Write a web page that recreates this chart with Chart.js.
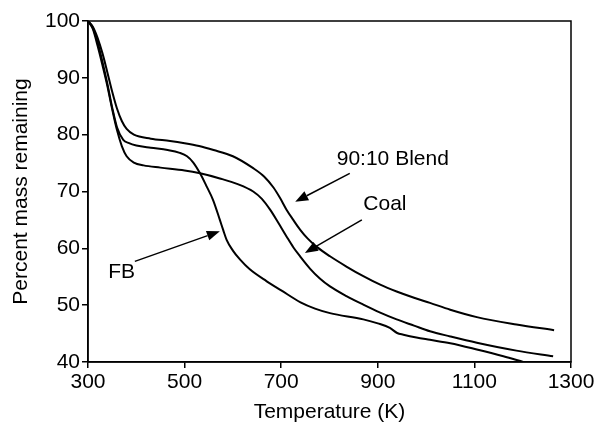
<!DOCTYPE html>
<html>
<head>
<meta charset="utf-8">
<script src="https://cdn.jsdelivr.net/npm/chart.js@4.4.1/dist/chart.umd.min.js"></script>
<style>
  html, body { margin: 0; padding: 0; background: #fff; }
</style>
</head>
<body>
<canvas id="myChart" width="609" height="426"></canvas>
<script>
// temperature (K) and percent mass remaining
const blendTemp = [300, 310, 320, 330, 340, 350, 360, 370, 380, 395, 430, 470, 500, 530, 560, 600, 642, 665, 684, 698, 711, 725, 739, 755, 773, 801, 835, 870, 905, 939, 975, 1008, 1050, 1105, 1187, 1265];
const blendMass = [100, 99.0, 97.0, 94.3, 91.0, 87.6, 84.6, 82.4, 81.0, 80.0, 79.3, 78.9, 78.5, 78.0, 77.3, 76.2, 74.1, 72.6, 70.7, 68.8, 66.8, 65.0, 63.3, 61.7, 60.3, 58.6, 56.8, 55.1, 53.6, 52.4, 51.3, 50.4, 49.2, 47.9, 46.6, 45.6];

const coalTemp = [300, 310, 320, 330, 340, 350, 360, 370, 380, 395, 415, 450, 500, 532, 573, 610, 642, 660, 677, 694, 711, 725, 739, 760, 780, 801, 835, 870, 905, 939, 975, 1008, 1050, 1105, 1187, 1263];
const coalMass = [100, 98.6, 95.6, 92.2, 88.6, 84.5, 80.8, 78.0, 76.2, 75.1, 74.6, 74.2, 73.7, 73.2, 72.3, 71.3, 70.0, 68.7, 66.8, 64.5, 62.1, 60.2, 58.6, 56.4, 54.7, 53.3, 51.6, 50.1, 48.7, 47.5, 46.4, 45.4, 44.5, 43.4, 42.0, 41.0];

const fbTemp = [300, 310, 320, 330, 340, 350, 360, 373, 385, 400, 430, 465, 490, 505, 518, 532, 545, 559, 573, 580, 587, 600, 615, 635, 670, 700, 740, 770, 801, 870, 900, 925, 940, 953, 980, 1008, 1050, 1105, 1160, 1201];
const fbMass = [100, 98.8, 96.2, 92.8, 89.0, 84.8, 81.3, 79.1, 78.5, 78.1, 77.7, 77.3, 76.8, 76.2, 75.1, 73.2, 71.0, 68.5, 65.0, 63.2, 61.5, 59.6, 58.0, 56.3, 54.2, 52.6, 50.5, 49.4, 48.6, 47.5, 46.8, 46.0, 45.1, 44.8, 44.3, 43.9, 43.3, 42.2, 41.0, 40.0];

const xTicks = [300, 500, 700, 900, 1100, 1300];
const yTicks = [40, 50, 60, 70, 80, 90, 100];

// callouts, in data units: text anchor (left, middle), arrow start, arrow tip
const notes = [
  { text: "90:10 Blend", at: [815, 75.6], from: [842, 73.2], to: [729, 68.2] },
  { text: "Coal", at: [870, 67.8], from: [867, 65.0], to: [749, 59.2] },
  { text: "FB", at: [342, 55.8], from: [397, 57.7], to: [573, 63.0] }
];

const toPoints = (t, m) => t.map((x, i) => ({ x: x, y: m[i] }));

const fontFam = '"Liberation Sans", Arial, Helvetica, sans-serif';

const boxPlugin = {
  id: "box",
  afterDatasetsDraw(chart) {
    const { ctx, chartArea: a } = chart;
    ctx.save();
    ctx.strokeStyle = "#000";
    ctx.lineWidth = 1.5;
    ctx.strokeRect(a.left, a.top, a.right - a.left, a.bottom - a.top);
    ctx.restore();
  }
};

const notesPlugin = {
  id: "notes",
  afterDatasetsDraw(chart) {
    const { ctx, scales: { x, y } } = chart;
    ctx.save();
    ctx.fillStyle = "#000";
    ctx.strokeStyle = "#000";
    ctx.font = "21px " + fontFam;
    ctx.textAlign = "left";
    ctx.textBaseline = "middle";
    notes.forEach(n => {
      ctx.fillText(n.text, x.getPixelForValue(n.at[0]), y.getPixelForValue(n.at[1]));
      const x0 = x.getPixelForValue(n.from[0]), y0 = y.getPixelForValue(n.from[1]);
      const x1 = x.getPixelForValue(n.to[0]), y1 = y.getPixelForValue(n.to[1]);
      const ang = Math.atan2(y1 - y0, x1 - x0);
      const len = 13, half = 5;
      const bx = x1 - len * Math.cos(ang), by = y1 - len * Math.sin(ang);
      ctx.lineWidth = 1.5;
      ctx.beginPath();
      ctx.moveTo(x0, y0);
      ctx.lineTo(bx, by);
      ctx.stroke();
      ctx.beginPath();
      ctx.moveTo(x1, y1);
      ctx.lineTo(bx + half * Math.sin(ang), by - half * Math.cos(ang));
      ctx.lineTo(bx - half * Math.sin(ang), by + half * Math.cos(ang));
      ctx.closePath();
      ctx.fill();
    });
    ctx.restore();
  }
};

const lineStyle = {
  borderColor: "#000",
  borderWidth: 2,
  pointRadius: 0,
  fill: false,
  cubicInterpolationMode: "monotone"
};

new Chart(document.getElementById("myChart"), {
  type: "line",
  data: {
    datasets: [
      { label: "90:10 Blend", data: toPoints(blendTemp, blendMass), ...lineStyle },
      { label: "Coal", data: toPoints(coalTemp, coalMass), ...lineStyle },
      { label: "FB", data: toPoints(fbTemp, fbMass), ...lineStyle }
    ]
  },
  options: {
    responsive: false,
    animation: false,
    devicePixelRatio: 1,
    layout: { padding: { top: 21, right: 38, left: 0, bottom: 0 } },
    plugins: { legend: { display: false }, tooltip: { enabled: false } },
    scales: {
      x: {
        type: "linear",
        min: 300,
        max: 1300,
        afterBuildTicks: s => { s.ticks = xTicks.map(v => ({ value: v })); },
        afterFit: s => { s.height = 64; },
        ticks: { color: "#000", font: { size: 21, family: fontFam }, padding: 2, maxRotation: 0, callback: v => String(v) },
        grid: { drawOnChartArea: false, drawTicks: true, tickLength: 6, color: "#000", lineWidth: 1.5 },
        border: { display: true, color: "#000", width: 1.5 },
        title: { display: true, text: "Temperature (K)", color: "#000", font: { size: 21, family: fontFam }, padding: { top: 0, bottom: 1 } }
      },
      y: {
        min: 40,
        max: 100,
        afterBuildTicks: s => { s.ticks = yTicks.map(v => ({ value: v })); },
        afterFit: s => { s.width = 88; },
        ticks: { color: "#000", font: { size: 21, family: fontFam }, padding: 2, callback: v => String(v) },
        grid: { drawOnChartArea: false, drawTicks: true, tickLength: 6, color: "#000", lineWidth: 1.5 },
        border: { display: true, color: "#000", width: 1.5 },
        title: { display: true, text: "Percent mass remaining", color: "#000", font: { size: 21, family: fontFam }, padding: { top: 9, bottom: 0 } }
      }
    }
  },
  plugins: [boxPlugin, notesPlugin]
});
</script>
</body>
</html>
